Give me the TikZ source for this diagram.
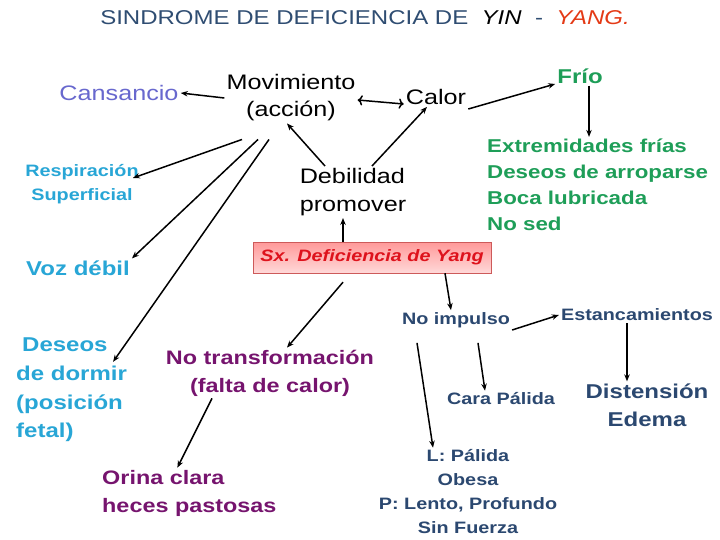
\documentclass[tikz,border=0pt]{standalone}
\usepackage{fontspec}
\setmainfont{Liberation Sans}[FakeStretch=1.2]
\usepackage{xcolor}
\usetikzlibrary{arrows.meta, positioning, calc}

\definecolor{titleblue}{RGB}{47,77,114}
\definecolor{yangred}{RGB}{228,58,22}
\definecolor{lavT}{RGB}{104,104,206}
\definecolor{cyanT}{RGB}{40,166,214}
\definecolor{greenT}{RGB}{30,158,88}
\definecolor{navyT}{RGB}{43,72,112}
\definecolor{purpT}{RGB}{118,20,110}
\definecolor{boxred}{RGB}{222,18,28}

\begin{document}
\begin{tikzpicture}[x=1pt, y=-1pt, every node/.style={inner sep=2pt},
    arr/.style={-{Stealth[length=7pt,width=5.5pt]}, line width=1.5pt},
    plain/.style={font=\fontsize{21}{27}\selectfont, align=center},
    greentxt/.style={font=\bfseries\fontsize{18.6}{26}\selectfont, text=greenT, align=left},
    cyanbig/.style={font=\bfseries\fontsize{20}{28.7}\selectfont, text=cyanT, align=left},
    cyansmall/.style={font=\bfseries\fontsize{16.5}{24}\selectfont, text=cyanT, align=center},
    purptxt/.style={font=\bfseries\fontsize{19.5}{28}\selectfont, text=purpT},
    navytxt/.style={font=\bfseries\fontsize{16.5}{24}\selectfont, text=navyT, align=center},
    sxbox/.style={draw={rgb,255:red,205;green,90;blue,90}, top color=red!40, bottom color=red!15,
        minimum width=238pt, minimum height=31pt, inner sep=0pt,
        font=\bfseries\itshape\fontsize{16.5}{20}\selectfont, text=boxred}]
    \useasboundingbox[fill=white] (0,0) rectangle (720,540);

    % =========================================================
    % TITLE
    % =========================================================
    \node[font=\fontsize{20}{24}\selectfont, text=titleblue] (title) at (365,18)
        {SINDROME DE DEFICIENCIA DE\ \ \textcolor{black}{\itshape YIN}\ \ -\ \ \textcolor{yangred}{\itshape YANG.}};

    % =========================================================
    % UPPER BLOCK
    % =========================================================
    \node[plain, text=lavT] (cansancio) at (119,93) {Cansancio};
    \node[plain] (mov) at (291,98) {Movimiento\\(acción)};
    \node[plain] (calor) at (436,97) {Calor};
    \node[greentxt, font=\bfseries\fontsize{20}{26}\selectfont] (frio) at (580,76) {Frío};
    \node[greentxt, anchor=west] (sint) at (485,185)
        {Extremidades frías\\Deseos de arroparse\\Boca lubricada\\No sed};
    \node[plain, align=left, font=\fontsize{21}{28}\selectfont] (debil) at (353,192) {Debilidad\\promover};
    \node[cyansmall] (resp) at (82,184) {Respiración\\Superficial};
    \node[cyanbig] (voz) at (78,268) {Voz débil};
    \node[sxbox] (sx) at (372,257.5) {Sx. Deficiencia de Yang};

    \draw[arr] (mov.west) -- (cansancio.east);
    \draw[arr, <->] ([yshift=-2pt]mov.east) -- ([yshift=-7pt]calor.west);
    \draw[arr] ([yshift=-12pt]calor.east) -- ([yshift=-8pt]frio.west);
    \draw[arr] ([xshift=9pt]frio.south) -- ([xshift=9pt]frio.south |- sint.north);
    \draw[arr] ([xshift=-28pt]debil.north) -- ([xshift=-4pt]mov.south);
    \draw[arr] ([xshift=19pt]debil.north) -- ([xshift=-9pt]calor.south);
    \draw[arr] ([xshift=-29pt]sx.north) -- ([xshift=-29pt]sx.north |- debil.south);

    % fan out of Movimiento
    \draw[arr] ([xshift=-49pt,yshift=-16pt]mov.south) -- ([xshift=-8pt,yshift=6pt]resp.east);
    \draw[arr] ([xshift=-33pt,yshift=-16pt]mov.south) -- (voz.north east);

    % =========================================================
    % LOWER LEFT BLOCK
    % =========================================================
    \node[cyanbig, anchor=west] (deseos) at (14,390) {\hspace{6pt}Deseos\\de dormir\\(posición\\fetal)};
    \node[purptxt, align=center] (notrans) at (270,373) {No transformación\\(falta de calor)};
    \node[purptxt, align=left, anchor=west] (orina) at (100,493) {Orina clara\\heces pastosas};

    \draw[arr] ([xshift=-22pt,yshift=-16pt]mov.south) -- ([xshift=-16pt,yshift=-26pt]deseos.north east);
    \draw[arr] ([xshift=-29pt,yshift=-9pt]sx.south) -- ([xshift=17pt]notrans.north);
    \draw[arr] ([xshift=-58pt]notrans.south) -- ([xshift=-12pt]orina.north);

    % =========================================================
    % LOWER RIGHT BLOCK
    % =========================================================
    \node[navytxt] (noimp) at (456,320) {No impulso};
    \node[navytxt] (estanc) at (637,315) {Estancamientos};
    \node[navytxt] (cara) at (501,399) {Cara Pálida};
    \node[navytxt] (lblock) at (468,492) {L: Pálida\\Obesa\\P: Lento, Profundo\\Sin Fuerza};
    \node[navytxt, font=\bfseries\fontsize{20}{28}\selectfont] (disten) at (647,405) {Distensión\\Edema};

    \draw[arr] ([xshift=73pt]sx.south) -- ([xshift=-5pt]noimp.north);
    \draw[arr] ([yshift=-10pt]noimp.east) -- (estanc.west);
    \draw[arr] ([xshift=-10pt]estanc.south) -- ([xshift=-10pt]estanc.south |- disten.north);
    \draw[arr] ([xshift=22pt,yshift=-13pt]noimp.south) -- ([xshift=-16pt]cara.north);
    \draw[arr] ([xshift=-39pt,yshift=-13pt]noimp.south) -- ([xshift=-35pt]lblock.north);
\end{tikzpicture}
\end{document}
